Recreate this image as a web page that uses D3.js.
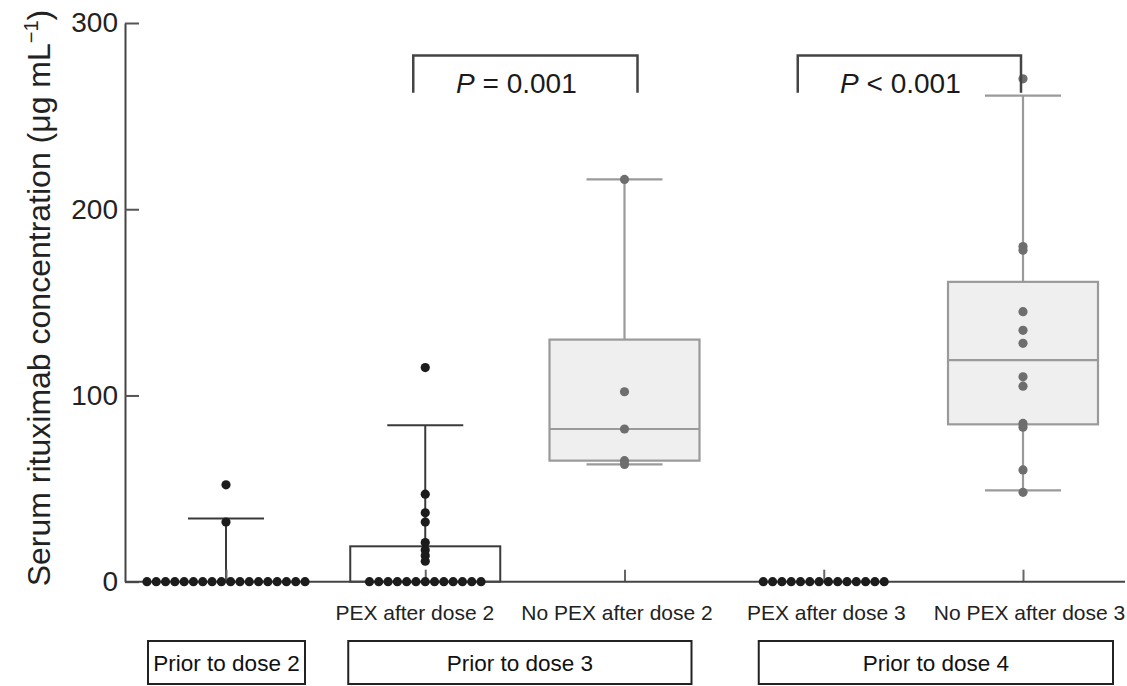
<!DOCTYPE html>
<html>
<head>
<meta charset="utf-8">
<script src="https://cdn.jsdelivr.net/npm/d3@7"></script>
<style>
  html, body { margin: 0; padding: 0; background: #fff; }
  svg { display: block; font-family: "Liberation Sans", Arial, Helvetica, sans-serif; }
</style>
</head>
<body>
<svg id="chart" width="1127" height="686"></svg>
<script>
// ---------------- data ----------------
const categories = ["Prior to dose 2", "PEX after dose 2", "No PEX after dose 2", "PEX after dose 3", "No PEX after dose 3"];
const xTickLabels = ["", "PEX after dose 2", "No PEX after dose 2", "PEX after dose 3", "No PEX after dose 3"];
const yTicks = [0, 100, 200, 300];
const yTitle = "Serum rituximab concentration (\u03bcg mL";

// individual observations per group
const valuesPrior2   = [52, 32, 0,0,0,0,0,0,0,0,0,0,0,0,0,0,0,0,0,0];
const valuesPexD2    = [115, 47, 37, 32, 21, 17, 14, 11, 0,0,0,0,0,0,0,0,0,0,0,0,0];
const valuesNoPexD2  = [216, 102, 82, 65, 63];
const valuesPexD3    = [0,0,0,0,0,0,0,0,0,0,0,0,0,0];
const valuesNoPexD3  = [270, 180, 178, 145, 135, 128, 110, 105, 85, 83, 60, 48];
const groupValues = [valuesPrior2, valuesPexD2, valuesNoPexD2, valuesPexD3, valuesNoPexD3];

// box statistics: [whiskerLow, q1, median, q3, whiskerHigh]
const boxPrior2  = [0, 0, 0, 0, 34];
const boxPexD2   = [0, 0, 0, 19, 84];
const boxNoPexD2 = [63, 65, 82, 130, 216];
const boxPexD3   = [0, 0, 0, 0, 0];
const boxNoPexD3 = [49, 84.5, 119, 161, 261];
const groupBoxes = [boxPrior2, boxPexD2, boxNoPexD2, boxPexD3, boxNoPexD3];

// group style: PEX / baseline groups dark, no-PEX groups light grey
const groupStyle = ["dark", "dark", "light", "dark", "light"];

// significance brackets
const bracketPairs  = [[1, 2], [3, 4]];
const bracketLabels = [["P", " = 0.001"], ["P", " < 0.001"]];

// bottom group boxes
const periodLabels = ["Prior to dose 2", "Prior to dose 3", "Prior to dose 4"];
const periodSpans  = [[0, 0], [1, 2], [3, 4]];

// ---------------- layout ----------------
const svg = d3.select("#chart");
const axisX = 125;
const rightEdge = 1125;

const y = d3.scaleLinear().domain([0, 300]).range([581.7, 23]);
const x = d3.scalePoint().domain(categories).range([226, 1023]);

const styles = {
  dark:  { fill: "#ffffff", stroke: "#3a3a3a", dot: "#1c1c1c", width: 2 },
  light: { fill: "#efefef", stroke: "#9a9a9a", dot: "#6e6e6e", width: 2.2 }
};

const boxHalf = 75, capHalf = 38, dotR = 4.6, dotStep = 9.3;
const labelShift = [0, -11, -8, 2, 6];

// ---------------- boxes & whiskers ----------------
const gBox = svg.append("g");
categories.forEach((c, i) => {
  const [lo, q1, med, q3, hi] = groupBoxes[i];
  const st = styles[groupStyle[i]];
  const cx = x(c);
  const g = gBox.append("g");
  if (q3 > q1) {
    g.append("rect")
      .attr("x", cx - boxHalf).attr("y", y(q3))
      .attr("width", boxHalf * 2).attr("height", y(q1) - y(q3))
      .attr("fill", st.fill).attr("stroke", st.stroke).attr("stroke-width", st.width);
    if (med > q1) {
      g.append("line")
        .attr("x1", cx - boxHalf).attr("x2", cx + boxHalf)
        .attr("y1", y(med)).attr("y2", y(med))
        .attr("stroke", st.stroke).attr("stroke-width", st.width);
    }
  }
  if (hi > q3) {
    g.append("line").attr("x1", cx).attr("x2", cx).attr("y1", y(q3)).attr("y2", y(hi))
      .attr("stroke", st.stroke).attr("stroke-width", st.width);
    g.append("line").attr("x1", cx - capHalf).attr("x2", cx + capHalf).attr("y1", y(hi)).attr("y2", y(hi))
      .attr("stroke", st.stroke).attr("stroke-width", st.width);
  }
  if (lo < q1) {
    g.append("line").attr("x1", cx).attr("x2", cx).attr("y1", y(q1)).attr("y2", y(lo))
      .attr("stroke", st.stroke).attr("stroke-width", st.width);
    g.append("line").attr("x1", cx - capHalf).attr("x2", cx + capHalf).attr("y1", y(lo)).attr("y2", y(lo))
      .attr("stroke", st.stroke).attr("stroke-width", st.width);
  }
});

// ---------------- axes ----------------
const yAxis = d3.axisLeft(y).tickValues(yTicks).tickSizeInner(-14).tickSizeOuter(0).tickPadding(7);
const gy = svg.append("g").attr("transform", `translate(${axisX},0)`).call(yAxis);
gy.select(".domain").attr("stroke", "#444").attr("stroke-width", 2);
gy.selectAll(".tick line").attr("stroke", "#555").attr("stroke-width", 2);
gy.selectAll(".tick text").attr("font-size", 28).attr("fill", "#222")
  .attr("font-family", "'Liberation Sans', Arial, sans-serif");

const xAxis = d3.axisBottom(x).tickSizeInner(-12).tickSizeOuter(0).tickPadding(23)
  .tickFormat((d, i) => xTickLabels[i]);
const gx = svg.append("g").attr("transform", `translate(0,${y(0)})`).call(xAxis);
gx.select(".domain").remove();
gx.selectAll(".tick line").attr("stroke", "#666").attr("stroke-width", 2);
gx.selectAll(".tick text").attr("font-size", 21).attr("fill", "#222")
  .attr("dx", (d, i) => labelShift[i])
  .attr("font-family", "'Liberation Sans', Arial, sans-serif");
svg.append("line").attr("x1", axisX).attr("x2", rightEdge).attr("y1", y(0)).attr("y2", y(0))
  .attr("stroke", "#444").attr("stroke-width", 2);

// ---------------- dots ----------------
const gDots = svg.append("g");
categories.forEach((c, i) => {
  const st = styles[groupStyle[i]];
  const vals = groupValues[i];
  const zeros = vals.filter(v => v === 0);
  const others = vals.filter(v => v !== 0);
  const cx = x(c);
  gDots.selectAll(null).data(others).enter().append("circle")
    .attr("cx", cx).attr("cy", d => y(d)).attr("r", dotR).attr("fill", st.dot);
  gDots.selectAll(null).data(zeros).enter().append("circle")
    .attr("cx", (d, k) => cx + (k - (zeros.length - 1) / 2) * dotStep)
    .attr("cy", d => y(d)).attr("r", dotR).attr("fill", st.dot);
});

// ---------------- brackets ----------------
const bracketTop = y(282.5), bracketLeg = y(262.5);
const bracketOffsets = [[-12, 13], [-26, -2]];
bracketPairs.forEach((p, i) => {
  const x1 = x(categories[p[0]]) + bracketOffsets[i][0];
  const x2 = x(categories[p[1]]) + bracketOffsets[i][1];
  svg.append("path")
    .attr("d", `M${x1},${bracketLeg}V${bracketTop}H${x2}V${bracketLeg}`)
    .attr("fill", "none").attr("stroke", "#444").attr("stroke-width", 2.5);
  const t = svg.append("text")
    .attr("x", (x1 + x2) / 2 - 9).attr("y", bracketLeg)
    .attr("text-anchor", "middle").attr("font-size", 28).attr("fill", "#1a1a1a");
  t.append("tspan").attr("font-style", "italic").text(bracketLabels[i][0]);
  t.append("tspan").text(bracketLabels[i][1]);
});

// ---------------- bottom period boxes ----------------
const periodPads = [[-78, 79], [-77, 67], [-65, 90]];
const pTop = 641, pBottom = 684;
periodSpans.forEach((s, i) => {
  const x1 = x(categories[s[0]]) + periodPads[i][0];
  const x2 = x(categories[s[1]]) + periodPads[i][1];
  svg.append("rect").attr("x", x1).attr("y", pTop).attr("width", x2 - x1).attr("height", pBottom - pTop)
    .attr("fill", "#fff").attr("stroke", "#222").attr("stroke-width", 2);
  svg.append("text").attr("x", (x1 + x2) / 2).attr("y", (pTop + pBottom) / 2 + 8)
    .attr("text-anchor", "middle").attr("font-size", 22.5).attr("fill", "#111")
    .text(periodLabels[i]);
});

// ---------------- y title ----------------
const yt = svg.append("text")
  .attr("transform", `translate(50,${298}) rotate(-90)`)
  .attr("text-anchor", "middle").attr("font-size", 32).attr("fill", "#222");
yt.append("tspan").text(yTitle);
yt.append("tspan").attr("font-size", 20).attr("dy", -12).text("\u22121");
yt.append("tspan").attr("dy", 12).text(")");
</script>
</body>
</html>
